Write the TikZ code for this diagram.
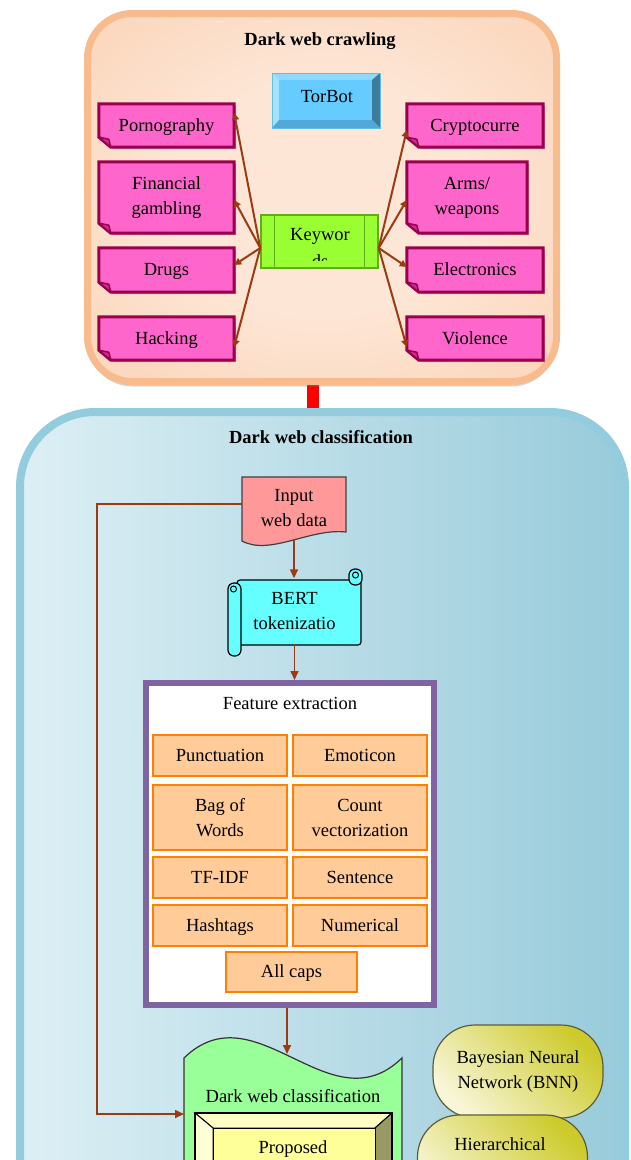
\documentclass[tikz,border=0pt]{standalone}
\usepackage{fontspec}
\setmainfont{Liberation Serif}
\usetikzlibrary{arrows.meta,shadows,calc}

\definecolor{pIn}{HTML}{FDE6D6}
\definecolor{pMid}{HTML}{FBD6BB}
\definecolor{pEdge}{HTML}{F8C6A0}
\definecolor{pOut}{HTML}{F5B585}
\definecolor{pLine}{HTML}{F7BB8E}
\definecolor{bL}{HTML}{DDEFF5}
\definecolor{bM}{HTML}{C9E5EE}
\definecolor{bR}{HTML}{98CBDA}
\definecolor{bLine}{HTML}{93CCDC}
\definecolor{pinkFill}{HTML}{FF66CC}
\definecolor{pinkEdge}{HTML}{99004D}
\definecolor{pinkFold}{HTML}{CC2E8F}
\definecolor{kwFill}{HTML}{99FF33}
\definecolor{kwEdge}{HTML}{5FAE16}
\definecolor{arrowC}{HTML}{9C3A12}
\definecolor{inFill}{HTML}{FF9999}
\definecolor{cyFill}{HTML}{66FFFF}
\definecolor{featEdge}{HTML}{8064A2}
\definecolor{oFill}{HTML}{FFCC99}
\definecolor{oEdge}{HTML}{FF8000}
\definecolor{gFill}{HTML}{99FF99}
\definecolor{yFace}{HTML}{FFFF99}
\definecolor{yTop}{HTML}{FFFFC4}
\definecolor{yLeft}{HTML}{FFFFD6}
\definecolor{yRight}{HTML}{999966}
\definecolor{ovDark}{HTML}{CDCB2C}
\definecolor{ovLight}{HTML}{F8F6D8}
\definecolor{ovEdge}{HTML}{5C5C3D}
\definecolor{tbTop}{HTML}{8FD9FF}
\definecolor{tbLeft}{HTML}{A6E1FF}
\definecolor{tbRight}{HTML}{3D7D99}
\definecolor{tbBottom}{HTML}{52A8D6}
\definecolor{tbFace}{HTML}{66CCFF}
\definecolor{tbEdge}{HTML}{5BC0F0}
\definecolor{docEdge}{HTML}{404040}
\definecolor{waveEdge}{HTML}{333333}

\pgfdeclareradialshading{peach}{\pgfpoint{0bp}{0bp}}{color(0bp)=(pIn); color(16bp)=(pIn); color(34bp)=(pMid); color(46bp)=(pEdge); color(72bp)=(pOut)}

\pgfdeclarelayer{under}
\pgfdeclarelayer{panel}
\pgfdeclarelayer{shape}
\pgfsetlayers{under,panel,shape,main}

% folded-corner label box drawn round a named node
\newcommand\pinkshape[1]{%
  \fill[pinkEdge, opacity=.35] ([shift={(2pt,-2pt)}]#1.north west) -- ([shift={(2pt,-2pt)}]#1.north east) -- ([shift={(2pt,-2pt)}]#1.south east) -- ([shift={(14pt,-2pt)}]#1.south west) -- cycle;
  \draw[pinkedge] (#1.north west) -- (#1.north east) -- (#1.south east) -- ([xshift=12pt]#1.south west) -- ([yshift=10pt]#1.south west) -- cycle;
  \draw[pinkEdge, line width=1.5pt, fill=pinkFold, line join=round] ([yshift=10pt]#1.south west) -- ([xshift=12pt]#1.south west) -- ([shift={(10pt,8pt)}]#1.south west) -- cycle;}

\begin{document}
\begin{tikzpicture}[x=1pt, y=-1pt,
  font=\fontsize{18.5}{25}\selectfont,
  txt/.style={inner sep=0pt, align=center, text=black},
  one/.style={text height=12.5pt, text depth=1pt},
  ttl/.style={txt, font=\fontsize{18.5}{25}\selectfont\bfseries},
  crawlpanel/.style={draw=pLine, line width=7pt, rounded corners=45pt, shading=peach,
    drop shadow={shadow xshift=0pt, shadow yshift=-5pt, opacity=0.3, fill=black!55}},
  classpanel/.style={draw=bLine, line width=8pt, rounded corners=75pt,
    left color=bL, middle color=bM, right color=bR},
  pinkbox/.style={txt, minimum height=#1},
  pinkedge/.style={draw=pinkEdge, line width=3pt, fill=pinkFill, line join=miter},
  crawlarrow/.style={draw=arrowC, line width=2pt, -{Triangle[length=7pt,width=7pt]}},
  classarrow/.style={draw=arrowC, line width=1.6pt, -{Triangle[length=9pt,width=8pt]}},
  obox/.style={txt, draw=oEdge, fill=oFill, line width=1.8pt, minimum width=134pt, minimum height=#1},
  oval/.style={draw=ovEdge, line width=1.2pt, rounded corners=42pt, top color=ovDark, bottom color=ovLight,
    shading angle=-45, minimum width=170pt, minimum height=93pt, inner sep=0pt, align=center},
  bevelline/.style={draw=black, line width=1pt, line join=miter}
]
\useasboundingbox (0,0) rectangle (631,1160);
\clip (0,0) rectangle (631,1160);

% ---------- panels ----------
\begin{pgfonlayer}{panel}
  \node[crawlpanel, minimum width=469pt, minimum height=368pt] (crawl) at (322,197.5) {};
  \node[classpanel, minimum width=605pt, minimum height=900pt] (classif) at (322.5,862) {};
\end{pgfonlayer}
\begin{pgfonlayer}{under}
  \fill[white] (0,0) rectangle (631,1160);
  \draw[red, line width=12pt] ([xshift=-9.5pt]crawl.south) -- ([xshift=-10pt]classif.north);
\end{pgfonlayer}

\node[ttl, one] (crawlttl) at (320,40) {Dark web crawling};
\node[ttl, one] (classttl) at (321,438) {Dark web classification};

% ---------- crawling ----------
\node[txt, one] (torbot) at (327,97) {TorBot};
\begin{pgfonlayer}{shape}
  \fill[tbTop] (272,73) -- (380,73) -- (372,80) -- (279,80) -- cycle;
  \fill[tbLeft] (272,73) -- (279,80) -- (279,120) -- (272,128) -- cycle;
  \fill[tbRight] (380,73) -- (380,128) -- (372,120) -- (372,80) -- cycle;
  \fill[tbBottom] (272,128) -- (380,128) -- (372,120) -- (279,120) -- cycle;
  \fill[tbFace] (279,80) rectangle (372,120);
  \draw[tbEdge, line width=1pt] (272,73) rectangle (380,128);
\end{pgfonlayer}

\node[pinkbox=43pt, one, minimum width=135pt] (porn)   at (166.5,125.5) {Pornography};
\node[pinkbox=71pt, minimum width=135pt] (fin)    at (166.5,197.5) {Financial\\gambling};
\node[pinkbox=44pt, one, minimum width=135pt] (drugs)  at (166.5,270)   {Drugs};
\node[pinkbox=43pt, one, minimum width=135pt] (hack)   at (166.5,338.5) {Hacking};
\node[pinkbox=43pt, one, minimum width=136pt] (crypto) at (475,125.5)   {Cryptocurre};
\node[pinkbox=71pt, minimum width=120pt] (arms)   at (467,197.5)   {Arms/\\weapons};
\node[pinkbox=44pt, one, minimum width=136pt] (elec)   at (475,270)     {Electronics};
\node[pinkbox=43pt, one, minimum width=136pt] (viol)   at (475,338.5)   {Violence};
\begin{pgfonlayer}{shape}
  \pinkshape{porn}\pinkshape{fin}\pinkshape{drugs}\pinkshape{hack}
  \pinkshape{crypto}\pinkshape{arms}\pinkshape{elec}\pinkshape{viol}
\end{pgfonlayer}

\node[draw=kwEdge, fill=kwFill, line width=1.5pt, minimum width=117pt, minimum height=53pt, inner sep=0pt] (kw) at (319.5,241.5) {};
\draw[kwEdge, line width=1.2pt] ([xshift=14pt]kw.north west) -- ([xshift=14pt]kw.south west);
\draw[kwEdge, line width=1.2pt] ([xshift=-14pt]kw.north east) -- ([xshift=-14pt]kw.south east);
\node[txt, anchor=base] (kwtext) at (320,240) {Keywor};
\begin{scope}
  \clip (262,216) rectangle (377,260);
  \node[txt, anchor=base] (kwtail) at (320,267.5) {ds};
\end{scope}

\draw[crawlarrow] ([yshift=-6.5pt]kw.west) -- ([yshift=12.5pt]porn.east);
\draw[crawlarrow] ([yshift=-6.5pt]kw.west) -- ([yshift=-2.5pt]fin.east);
\draw[crawlarrow] ([yshift=-6.5pt]kw.west) -- ([yshift=5pt]drugs.east);
\draw[crawlarrow] ([yshift=-6.5pt]kw.west) -- ([yshift=-8.5pt]hack.east);
\draw[crawlarrow] ([yshift=-6.5pt]kw.east) -- ([yshift=-4.5pt]crypto.west);
\draw[crawlarrow] ([yshift=-6.5pt]kw.east) -- ([yshift=-2.5pt]arms.west);
\draw[crawlarrow] ([yshift=-6.5pt]kw.east) -- ([yshift=3pt]elec.west);
\draw[crawlarrow] ([yshift=-6.5pt]kw.east) -- ([yshift=-8.5pt]viol.west);

% ---------- classification ----------
\begin{pgfonlayer}{shape}
  % document shape
  \draw[docEdge, line width=1.2pt, fill=inFill] (242,477) -- (346,477) -- (346,532) .. controls (310,528) and (270,556) .. (242,541) -- cycle;
  % horizontal scroll
  \draw[black, line width=1.2pt, fill=cyFill, rounded corners=3pt] (237,580) rectangle (361,645);
  \draw[black, line width=1.2pt, fill=cyFill, rounded corners=6pt] (228,583) rectangle (241,656);
  \draw[black, line width=1pt, fill=cyFill] (233.5,589) circle (3pt);
  \draw[black, line width=1.2pt, fill=cyFill, rounded corners=6pt] (349,569) rectangle (362,585);
  \draw[black, line width=1pt, fill=cyFill] (355.5,575) circle (3pt);
  % wavy classification block
  \draw[waveEdge, line width=1.2pt, fill=gFill] (184,1058) .. controls (256,988) and (330,1128) .. (402,1058) -- (402,1200) -- (184,1200) -- cycle;
  % bevelled block
  \draw[bevelline, fill=yTop] (195,1113) -- (392,1113) -- (375,1128) -- (213,1128) -- cycle;
  \draw[bevelline, fill=yLeft] (195,1113) -- (213,1128) -- (213,1200) -- (195,1200) -- cycle;
  \draw[bevelline, fill=yRight] (392,1113) -- (392,1200) -- (375,1200) -- (375,1128) -- cycle;
  \draw[bevelline, fill=yFace] (213,1128) rectangle (375,1200);
  \draw[black, line width=2pt] (195,1113) rectangle (392,1200);
\end{pgfonlayer}

\node[txt, minimum width=104pt, minimum height=61pt] (input) at (294,508.5) {Input\\web data};
\node[txt, minimum width=115pt, minimum height=65pt] (bert) at (294.5,611) {BERT\\tokenizatio};

\node[draw=featEdge, line width=6pt, fill=white, minimum width=288pt, minimum height=322pt, inner sep=0pt] (feat) at (290,844) {};
\node[txt, one] (featttl) at (290,704) {Feature extraction};
\node[obox=41pt, one] (punct) at (220,755.5) {Punctuation};
\node[obox=41pt, one] (emot)  at (360,755.5) {Emoticon};
\node[obox=65pt] (bow)   at (220,817.5) {Bag of\\Words};
\node[obox=65pt] (count) at (360,817.5) {Count\\vectorization};
\node[obox=41pt, one] (tfidf) at (220,877.5) {TF-IDF};
\node[obox=41pt, one] (sent)  at (360,877.5) {Sentence};
\node[obox=41pt, one] (hash)  at (220,925.5) {Hashtags};
\node[obox=41pt, one] (numer) at (360,925.5) {Numerical};
\node[obox=40pt, one, minimum width=131pt] (caps) at (291.5,972) {All caps};

\node[txt, one] (dwc) at (293,1097) {Dark web classification};
\coordinate (dwctop) at (287,1054);
\coordinate (dwcleft) at (184,1114);
\node[txt, one] (prop) at (293,1148) {Proposed};

\node[oval] (bnn) at (518,1071.5) {Bayesian Neural\\Network (BNN)};
\node[oval] (hier) at (502.5,1161.5) {};
\node[txt, one] (hiertxt) at (500,1145) {Hierarchical};

\draw[classarrow] (input.south) -- (input.south |- bert.north);
\draw[classarrow] (bert.south) -- (bert.south |- feat.north);
\draw[classarrow] (feat.south -| dwctop) -- (dwctop);
\draw[classarrow] ([yshift=4.5pt]input.west) -- ++(-145,0) |- (dwcleft);
\end{tikzpicture}
\end{document}
